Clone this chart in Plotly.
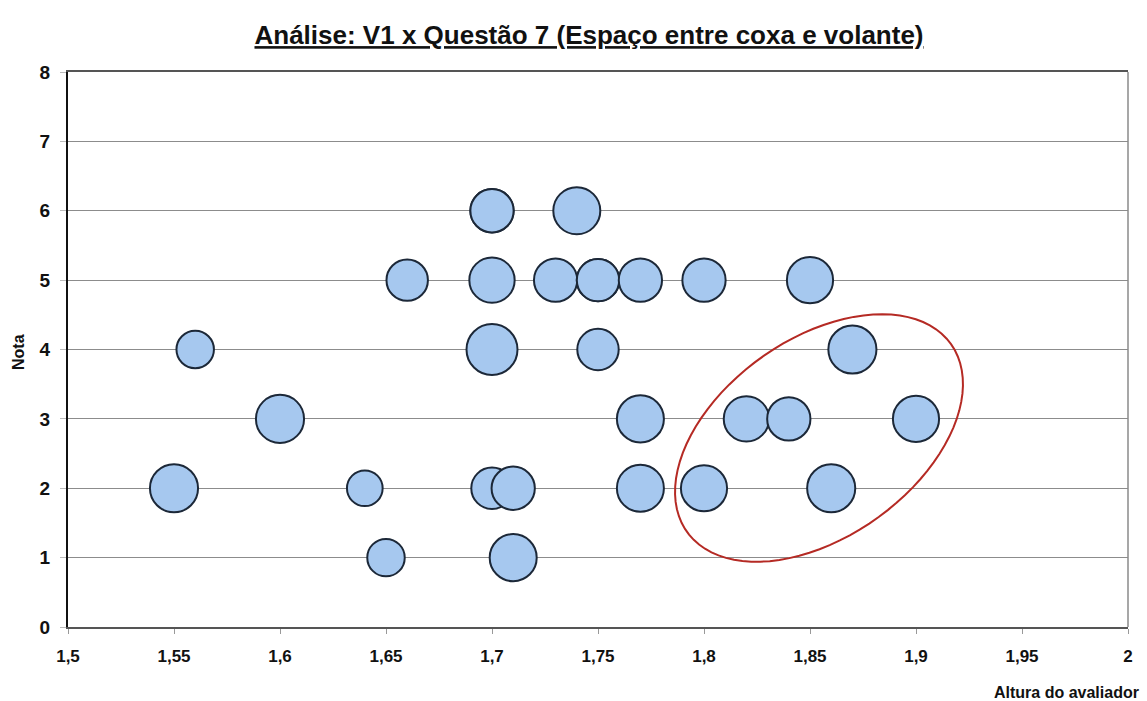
import numpy as np
import plotly.graph_objects as go

# altura do avaliador, nota, tamanho da bolha
altura = [1.55, 1.56, 1.60, 1.64, 1.65, 1.66, 1.70, 1.70, 1.70, 1.70, 1.70, 1.71, 1.71,
          1.73, 1.74, 1.75, 1.75, 1.75, 1.77, 1.77, 1.77, 1.80, 1.80, 1.82, 1.84, 1.85,
          1.86, 1.87, 1.90]
nota = [2, 4, 3, 2, 1, 5, 6, 6, 5, 4, 2, 2, 1,
        5, 6, 5, 5, 4, 5, 3, 2, 5, 2, 3, 3, 5,
        2, 4, 3]
tamanho = [89, 54, 89, 49, 54, 66, 72, 72, 79, 100, 66, 72, 85,
           72, 85, 69, 69, 66, 72, 85, 85, 72, 82, 79, 72, 82,
           89, 89, 82]

x_ticks = [1.5, 1.55, 1.6, 1.65, 1.7, 1.75, 1.8, 1.85, 1.9, 1.95, 2.0]
x_labels = ["1,5", "1,55", "1,6", "1,65", "1,7", "1,75", "1,8", "1,85", "1,9", "1,95", "2"]
y_ticks = [0, 1, 2, 3, 4, 5, 6, 7, 8]

W, H = 1147, 701
L, R, T, B = 68, 19, 72, 74
px_x = (W - L - R) / 0.5
px_y = (H - T - B) / 8.0

font = "Liberation Sans, Arial, sans-serif"
max_d = 51

fig = go.Figure()
fig.add_trace(go.Scatter(
    x=altura, y=nota, mode="markers",
    marker=dict(size=tamanho, sizemode="area",
                sizeref=2 * max(tamanho) / max_d ** 2,
                color="#a6c8ef", opacity=1,
                line=dict(color="#1c2838", width=2)),
    showlegend=False, hoverinfo="x+y"))

# red ellipse highlighting the taller evaluators (pixel geometry -> data coords)
cx, cy = 1.5 + (819 - L) / px_x, (H - B - 438) / px_y
a, b, th = 162, 99, np.radians(35.4)
t = np.linspace(0, 2 * np.pi, 90)
ex = cx + (a * np.cos(t) * np.cos(th) - b * np.sin(t) * np.sin(th)) / px_x
ey = cy + (a * np.cos(t) * np.sin(th) + b * np.sin(t) * np.cos(th)) / px_y
path = "M " + " L ".join(f"{u:.5f},{v:.5f}" for u, v in zip(ex, ey)) + " Z"
fig.add_shape(type="path", path=path, xref="x", yref="y",
              line=dict(color="#b52a24", width=2))

# right border of plot area
fig.add_shape(type="line", xref="paper", yref="paper", x0=1, x1=1, y0=0, y1=1,
              line=dict(color="#8a8a8a", width=1.5))

fig.update_layout(
    width=W, height=H,
    margin=dict(l=L, r=R, t=T, b=B),
    paper_bgcolor="white", plot_bgcolor="white",
    separators=",.",
    font=dict(family=font, color="#111"),
    title=dict(text="Análise: V1 x Questão 7 (Espaço entre coxa e volante)",
               x=589 / W, y=1 - 35 / H, xref="container", yref="container",
               xanchor="center", yanchor="middle",
               font=dict(family=font, size=26, weight="bold", color="#111",
                         lineposition="under")),
    xaxis=dict(range=[1.5, 2.0], tickvals=x_ticks, ticktext=x_labels,
               showgrid=False, zeroline=False,
               showline=True, linecolor="#555", linewidth=1.5, mirror=True,
               ticks="outside", ticklen=5, tickcolor="#999",
               ticklabelstandoff=8,
               tickfont=dict(family=font, size=17, weight="bold", color="#111")),
    yaxis=dict(range=[0, 8], tickvals=y_ticks,
               showgrid=True, gridcolor="#8c8c8c", gridwidth=1.2, zeroline=False,
               showline=True, linecolor="#111", linewidth=2,
               ticks="outside", ticklen=6, tickcolor="#bbb",
               ticklabelstandoff=6,
               tickfont=dict(family=font, size=19, weight="bold", color="#111")),
    annotations=[
        dict(text="Altura do avaliador", xref="paper", yref="paper",
             x=(1141 - L) / (W - L - R), y=-(692 - (H - B)) / (H - T - B),
             xanchor="right", yanchor="middle", showarrow=False,
             font=dict(family=font, size=16, weight="bold", color="#111")),
        dict(text="Nota", xref="paper", yref="paper",
             x=-(L - 18) / (W - L - R), y=(H - B - 352) / (H - T - B),
             xanchor="center", yanchor="middle", textangle=-90, showarrow=False,
             font=dict(family=font, size=16, weight="bold", color="#111")),
    ],
)

fig.write_html("out.html", config={"displayModeBar": False},
               post_script="document.body.style.margin='0';")
